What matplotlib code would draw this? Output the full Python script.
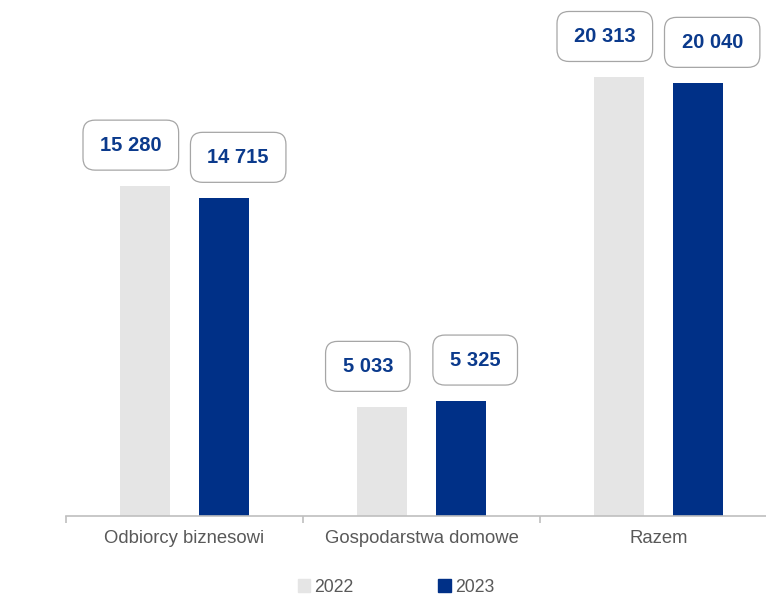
import matplotlib
matplotlib.use("Agg")
import matplotlib.pyplot as plt
from matplotlib.patches import Patch, BoxStyle
import numpy as np

categories = ["Odbiorcy biznesowi", "Gospodarstwa domowe", "Razem"]
series_names = ["2022", "2023"]
values_2022 = [15280, 5033, 20313]
values_2023 = [14715, 5325, 20040]
labels_2022 = ["15 280", "5 033", "20 313"]
labels_2023 = ["14 715", "5 325", "20 040"]

plt.rcParams['font.family'] = ['Liberation Sans', 'DejaVu Sans']

c22 = "#e5e5e5"
c23 = "#003087"
txt_blue = "#0b3a8c"


class WideRound(BoxStyle.Round):
    def __call__(self, x0, y0, width, height, mutation_size):
        extra = 2.5
        return super().__call__(x0 - extra, y0 - 1, width + 2 * extra, height + 2, mutation_size)


fig = plt.figure(figsize=(7.66, 6.12), dpi=100)
ax = fig.add_axes([66/766, 1 - 516/612, 711/766, 516/612])

x = np.arange(len(categories))
w = 0.211
off = 0.165
ax.bar(x - off, values_2022, width=w, color=c22, zorder=2)
ax.bar(x + off, values_2023, width=w, color=c23, zorder=2)

ax.set_xlim(-0.5, 2.5)
ax.set_ylim(0, 23900)


def add_labels(xs, vals, labs, dx):
    for xi, v, lab in zip(xs, vals, labs):
        ax.annotate(lab, xy=(xi, v), xytext=(dx, 29.5), textcoords='offset points',
                    ha='center', va='center', fontsize=14.5, fontweight='bold', color=txt_blue,
                    bbox=dict(boxstyle=WideRound(pad=0.72, rounding_size=0.6),
                              fc='white', ec='#a6a6a6', lw=0.9),
                    annotation_clip=False, zorder=5)


add_labels(x - off, values_2022, labels_2022, -10.5)
add_labels(x + off, values_2023, labels_2023, 10.5)

for s in ['top', 'right', 'left']:
    ax.spines[s].set_visible(False)
ax.spines['bottom'].set_color('#bfbfbf')
ax.spines['bottom'].set_linewidth(1.2)
ax.set_yticks([])
ax.set_xticks(x)
ax.set_xticklabels(categories, fontsize=13.3, color='#595959')
ax.tick_params(axis='x', which='major', length=0, pad=10)
ax.set_xticks([-0.5, 0.5, 1.5, 2.5], minor=True)
ax.tick_params(axis='x', which='minor', length=5, color='#bfbfbf', width=1.2)

handles = [Patch(color=c22), Patch(color=c23)]
fig.legend(handles, series_names, loc='center', bbox_to_anchor=(0.517, 1 - 587/612),
           ncol=2, frameon=False, fontsize=12.7, handlelength=0.7, handleheight=0.7,
           handletextpad=0.25, columnspacing=4.8, labelcolor='#595959')

fig.savefig("out.png", dpi=100)
